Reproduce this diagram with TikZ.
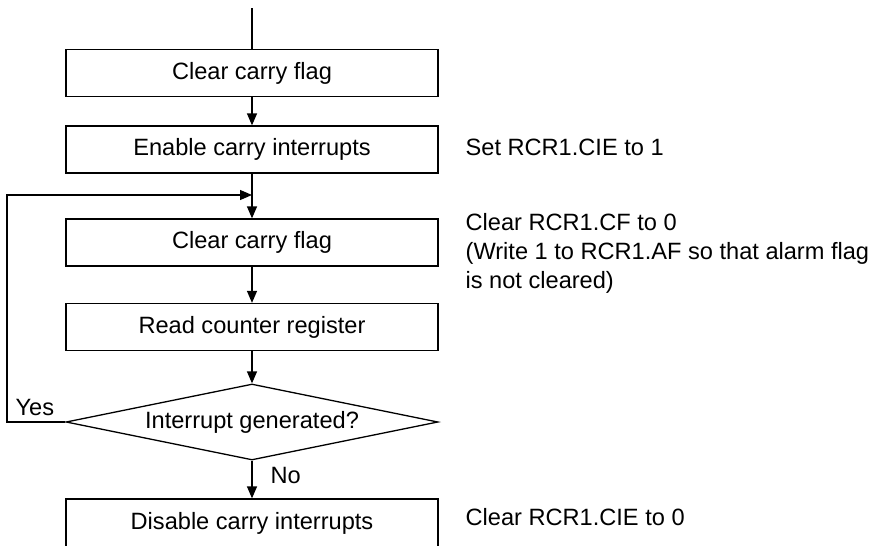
\documentclass[tikz,border=0pt]{standalone}
\usepackage{fontspec}
\setmainfont{Liberation Sans}
\usetikzlibrary{arrows.meta,shapes.geometric}
\begin{document}
\begin{tikzpicture}[x=1pt,y=-1pt,
  line width=1.3pt,
  font=\fontsize{23.6}{29}\selectfont,
  procbox/.style={draw,rectangle,minimum width=372pt,minimum height=47pt,inner sep=0pt},
  decision/.style={draw,diamond,minimum width=372pt,minimum height=76pt,inner sep=0pt,shape aspect=4.9},
  note/.style={inner sep=0pt,align=left},
  arr/.style={-{Triangle[length=12pt,width=10pt]}}]
\useasboundingbox (0,0) rectangle (881,546);
\coordinate (start) at (252,8);
\node[procbox] (b1) at (252,73) {Clear carry flag};
\node[procbox] (b2) at (252,149.5) {Enable carry interrupts};
\node[procbox] (b3) at (252,242.5) {Clear carry flag};
\node[procbox] (b4) at (252,327) {Read counter register};
\node[decision] (d) at (252,422) {Interrupt generated?};
\node[procbox,minimum height=48pt] (b5) at (252,523) {Disable carry interrupts};
\coordinate (loopL) at (7,422);
\coordinate (loopT) at (7,195);
\coordinate (join) at (252,195);
\draw (start) -- (b1.north);
\draw[arr] (b1.south) -- (b2.north);
\draw[arr] (b2.south) -- (b3.north);
\draw[arr] (b3.south) -- (b4.north);
\draw[arr] (b4.south) -- (d.north);
\draw[arr] (d.south) -- (b5.north);
\draw[arr] (d.west) -- (loopL) -- (loopT) -- (join);
\node[note,anchor=base west] (yes) at (15,415) {Yes};
\node[note,anchor=base west] (no) at (270,483) {No};
\node[note,anchor=west] (n1) at (465,147) {Set RCR1.CIE to 1};
\node[note,anchor=north west] (n2) at (465,213) {Clear RCR1.CF to 0\\(Write 1 to RCR1.AF so that alarm flag\\is not cleared)};
\node[note,anchor=west] (n3) at (465,517) {Clear RCR1.CIE to 0};
\end{tikzpicture}
\end{document}
